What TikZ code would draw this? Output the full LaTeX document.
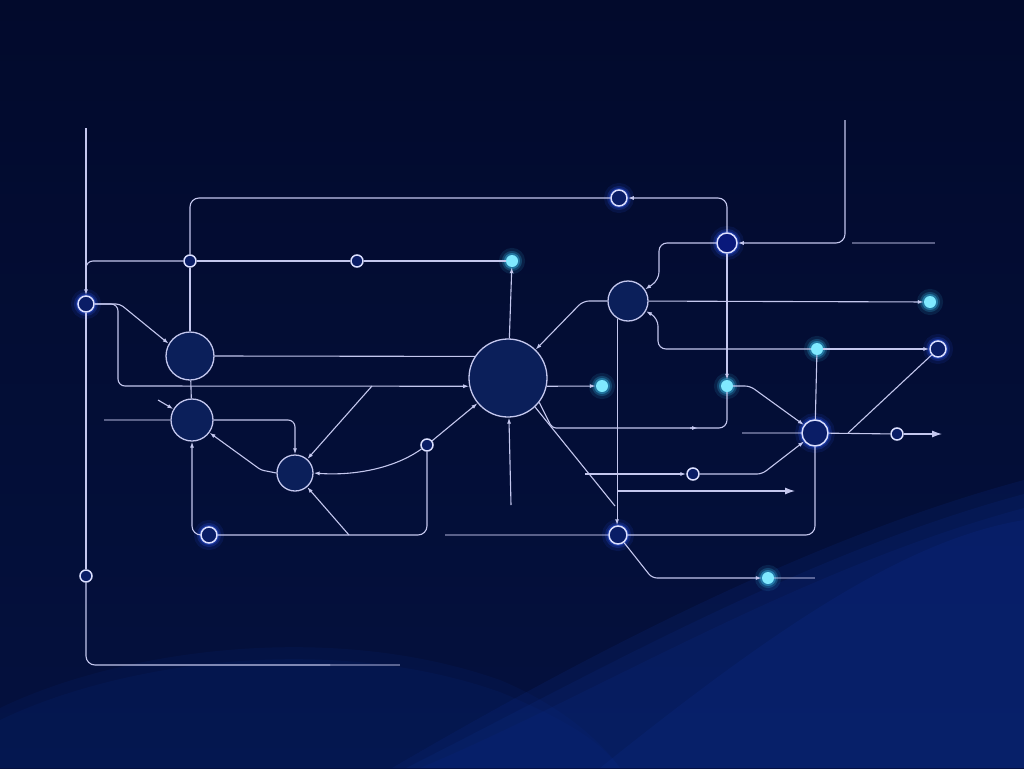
\documentclass[tikz,border=0pt]{standalone}
\usepackage{tikz}
\usetikzlibrary{arrows.meta,positioning,calc}
\definecolor{bgtop}{HTML}{020A2C}
\definecolor{bgbot}{HTML}{04113F}
\definecolor{wave}{HTML}{0B2D8C}
\definecolor{wirec}{HTML}{C4C7EE}
\definecolor{hubc}{HTML}{0B1F5A}
\definecolor{ringc}{HTML}{DCE0FF}
\definecolor{ringfill}{HTML}{0A1D66}
\definecolor{dotc}{HTML}{7FE9FF}
\definecolor{glowb}{HTML}{2E5BFF}
\definecolor{glowc}{HTML}{3FD2FF}
\tikzset{
  wire/.style={draw=wirec,line width=1.1pt},
  faint/.style={wire,draw opacity=0.45},
  tipped/.style={-{Latex[length=6pt,width=4pt]}},
  bigtip/.style={-{Latex[length=10pt,width=7pt]}},
  hub/.style={circle,draw=wirec,line width=1.3pt,fill=hubc,inner sep=0pt},
  ring/.style={circle,draw=ringc,line width=1.5pt,fill=ringfill,inner sep=0pt,minimum size=#1},
  ring/.default=12pt,
  cyandot/.style={circle,fill=dotc,inner sep=0pt,minimum size=12pt},
  halo/.style={preaction={draw=#1,line width=14pt,draw opacity=0.10},
               preaction={draw=#1,line width=8pt,draw opacity=0.20},
               preaction={draw=#1,line width=4pt,draw opacity=0.35}},
  halo/.default=glowb
}

\begin{document}
\begin{tikzpicture}[x=1pt,y=-1pt]
    \useasboundingbox (0,0) rectangle (1024,768);
    \shade[top color=bgtop,bottom color=bgbot] (0,0) rectangle (1024,768);
    % soft waves
    \foreach \d/\o in {0/0.18,14/0.18,28/0.18} {
      \fill[wave,fill opacity=\o] (392+\d,768) .. controls (560+\d,670+\d) and (800,540+\d) .. (1024,480+\d) -- (1024,768) -- cycle;
    }
    \foreach \d in {0,12} {
      \fill[wave,fill opacity=0.12] (0,708+\d) .. controls (120,650+\d) and (330,620+\d) .. (500,680+\d) .. controls (560,705+\d) and (600,740) .. (620,768) -- (0,768) -- cycle;
    }
    \fill[wave,fill opacity=0.22] (600,768) .. controls (760,640) and (900,540) .. (1024,520) -- (1024,768) -- cycle;

    % hubs
    \node[hub,minimum size=48pt] (A) at (190,356) {};
    \node[hub,minimum size=42pt] (B) at (192,420) {};
    \node[hub,minimum size=36pt] (C) at (295,473) {};
    \node[hub,minimum size=78pt] (D) at (508,378) {};
    \node[hub,minimum size=40pt] (E) at (628,301) {};
    \node[ring=26pt,halo] (F) at (815,433) {};

    % rings
    \node[ring=16pt,halo] (n1) at (86,304) {};
    \node[ring] (n2) at (190,261) {};
    \node[ring] (n3) at (357,261) {};
    \node[ring=16pt,halo] (n4) at (619,198) {};
    \node[ring=20pt,halo,fill=hubc!80!blue] (n5) at (727,243) {};
    \node[ring] (n6) at (427,445) {};
    \node[ring=16pt,halo] (n7) at (209,535) {};
    \node[ring] (n8) at (86,576) {};
    \node[ring=18pt,halo] (n9) at (618,535) {};
    \node[ring] (n10) at (693,474) {};
    \node[ring=16pt,halo] (n11) at (938,349) {};
    \node[ring] (n12) at (897,434) {};

    % cyan dots
    \node[cyandot,halo=glowc] (c1) at (512,261) {};
    \node[cyandot,halo=glowc] (c2) at (602,386) {};
    \node[cyandot,halo=glowc] (c3) at (727,386) {};
    \node[cyandot,halo=glowc] (c4) at (817,349) {};
    \node[cyandot,halo=glowc] (c5) at (930,302) {};
    \node[cyandot,halo=glowc] (c6) at (768,578) {};

    \coordinate (tl) at (86,128);
    \coordinate (jl) at (86,285);
    \coordinate (tr) at (845,120);
    \coordinate (db) at (511,505);

    % left side
    \draw[wire,tipped] (tl) -- (n1);
    \draw[wire,rounded corners=7] (jl) |- (n2);
    \draw[wire] (n2) -- (n3);
    \draw[wire] (n3) -- (c1);
    \draw[wire,rounded corners=9] (n2) |- (n4);
    \draw[wire] (n2) -- (A);
    \draw[wire] (A) -- (B);
    \draw[wire] (A.east) -- (D.147);
    \draw[wire,rounded corners=4,tipped] (n1.east) -- (120,304) -- (A.150);
    \draw[wire,rounded corners=7,tipped] (n1.east) -| (118,386) -- (D.192);
    \draw[wire] (n1) -- (n8);
    \draw[wire,rounded corners=9] (n8) |- (330,665);
    \draw[faint] (330,665) -- (400,665);
    \draw[faint] (104,420) -- (B);
    \draw[wire,tipped] (158,400) -- (B);
    \draw[wire,rounded corners=7,tipped] (B.east) -| (C);
    \draw[wire,rounded corners=3,tipped] (C.west) -- (261,470) -- (B);
    \draw[wire,tipped] (372,386) -- (C);
    \draw[wire,tipped] (349,535) -- (C);
    \draw[wire,tipped] (n6) .. controls (395,468) and (355,476) .. (C.east);
    \draw[wire,tipped] (n6) -- (D);
    \draw[wire,rounded corners=9] (n6) |- (n7);
    \draw[wire,rounded corners=9,tipped] (n7) -| (B);

    % centre
    \draw[wire,tipped] (D) -- (c1);
    \draw[wire,tipped] (db) -- (D);
    \draw[wire,tipped] (D.348) -- (c2);
    \draw[wire,rounded corners=4,tipped] (D.322) -- (552,428) -- (698,428);
    \draw[wire,rounded corners=8] (690,428) -| (c3);
    \draw[wire] (D.313) -- (615,506);
    \draw[wire,rounded corners=6,tipped] (E.west) -- (583,301) -- (D);

    % right side
    \draw[wire,rounded corners=9,tipped] (n5) |- (n4);
    \draw[wire,tipped] (n5) -- (c3);
    \draw[wire,rounded corners=9,tipped] (tr) |- (n5);
    \draw[faint] (852,243) -- (935,243);
    \draw[wire,rounded corners=8,tipped] (n5) -| (659,280) -- (E);
    \draw[wire,tipped] (E) -- (c5);
    \draw[wire,rounded corners=8,{Latex[length=6pt,width=4pt]}-] (E) -- (658,318) |- (c4);
    \draw[wire,tipped] (c4) -- (n11);
    \draw[wire,tipped] (E.238) -- (E.238 |- n9.north);
    \draw[faint] (445,535) -- (n9);
    \draw[wire,rounded corners=9] (n9) -| (F);
    \draw[wire] (c4) -- (F);
    \draw[wire,rounded corners=5,tipped] (n9) -- (652,578) -- (c6);
    \draw[faint] (c6) -- (815,578);
    \draw[wire,tipped] (585,474) -- (n10);
    \draw[wire,rounded corners=5,tipped] (n10) -- (762,474) -- (F);
    \draw[wire,bigtip] (617,491) -- (795,491);
    \draw[wire,rounded corners=5,tipped] (c3) -- (750,386) -- (F);
    \draw[faint] (742,433) -- (F);
    \draw[wire] (F) -- (n12);
    \draw[wire,bigtip] (n12) -- (942,434);
    \draw[wire] (848,433) -- (n11);
\end{tikzpicture}
\end{document}
